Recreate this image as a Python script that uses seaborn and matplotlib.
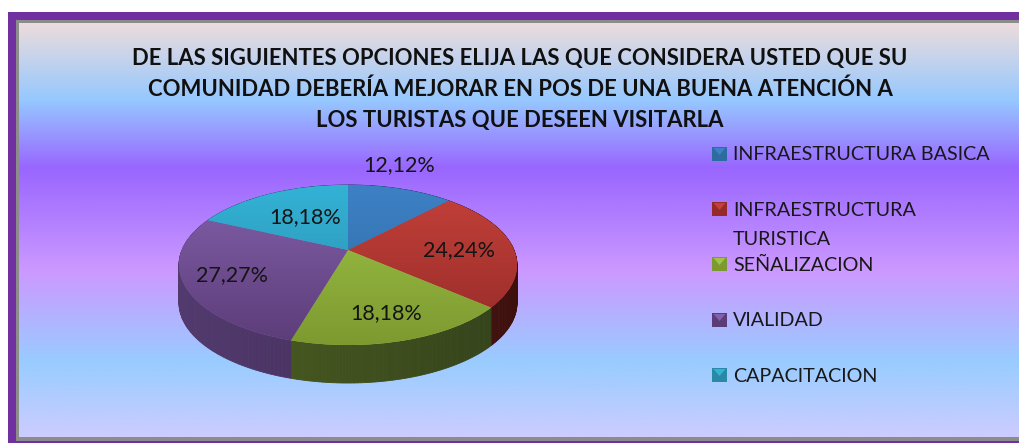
import numpy as np
import matplotlib
matplotlib.use("Agg")
import matplotlib.pyplot as plt
import seaborn as sns
from matplotlib.colors import LinearSegmentedColormap, to_rgb
from matplotlib.patches import Rectangle, Polygon
from matplotlib.transforms import Transform

categories = ["INFRAESTRUCTURA BASICA", "INFRAESTRUCTURA\nTURISTICA", "SEÑALIZACION", "VIALIDAD", "CAPACITACION"]
values = [12.12, 24.24, 18.18, 27.27, 18.18]
pct_labels = ["12,12%", "24,24%", "18,18%", "27,27%", "18,18%"]
title_lines = ["DE LAS SIGUIENTES OPCIONES ELIJA LAS QUE CONSIDERA USTED QUE SU",
               "COMUNIDAD DEBERÍA MEJORAR EN POS DE UNA BUENA ATENCIÓN A",
               "LOS TURISTAS QUE DESEEN VISITARLA"]
top_hi = ["#3d80c5", "#c4413a", "#9fc348", "#8260aa", "#33b2d6"]
top_lo = ["#2c6c9f", "#952a28", "#7d9a30", "#5c3c78", "#2a8aa6"]
side_l = ["#1c4468", "#5e1a16", "#4e6022", "#523a6e", "#1c5a6e"]
side_r = ["#153450", "#3e100c", "#34421a", "#3e2a52", "#154454"]

sns.set_theme(style="white")
plt.rcParams["font.family"] = ["Lato", "DejaVu Sans"]

W, H = 1019, 443
fig = plt.figure(figsize=(W / 100, H / 100), dpi=100, facecolor="white")
ax = fig.add_axes([0, 0, 1, 1])

CX, CY, D, A, C, DEPTH = 348.0, 250.0, 166.0, 77.2, 0.1875, 38.0


class Perspective(Transform):
    """Tilts the unit-circle pie into the chart's pixel space."""
    input_dims = output_dims = 2
    is_separable = False
    has_inverse = False

    def transform_non_affine(self, xy):
        xy = np.asarray(xy, float)
        den = 1 + C * xy[:, 1]
        return np.column_stack([CX + D * xy[:, 0] / den, CY - A * xy[:, 1] / den])


persp = Perspective()
wedges, _ = ax.pie(values, startangle=90, counterclock=False, radius=1.0, colors=top_hi)
ax.set_aspect("auto")
ax.set_xlim(0, W)
ax.set_ylim(H, 0)
ax.axis("on")
ax.set_xticks([])
ax.set_yticks([])
for s in ax.spines.values():
    s.set_visible(False)

# frame and background
ax.add_patch(Rectangle((8, 12), W - 8, H - 12, fc="#7030a0", ec="none", zorder=0))
ax.add_patch(Rectangle((16, 20), W - 16, H - 22, fc="#8c8c8c", ec="none", zorder=0.1))
stops = [(0.0, "#ecdcdc"), (0.185, "#96c8ff"), (0.35, "#9966ff"),
         (0.60, "#cc99ff"), (0.82, "#99ccff"), (1.0, "#ccccff")]
bg = LinearSegmentedColormap.from_list("bg", stops)
ax.imshow(np.linspace(0, 1, 256)[:, None], cmap=bg, extent=(19, W, 437, 23), aspect="auto", zorder=0.2,
          vmin=0, vmax=1)

# side of the pie, built from the same slice fractions
fr = np.cumsum([0] + values) / sum(values)
th = np.pi / 2 - 2 * np.pi * fr
for i in range(len(values)):
    t = np.linspace(th[i], th[i + 1], 80)
    p = persp.transform_non_affine(np.column_stack([np.cos(t), np.sin(t)]))
    cl, cr = np.array(to_rgb(side_l[i])), np.array(to_rgb(side_r[i]))
    for j in range(len(t) - 1):
        xs = [p[j, 0], p[j + 1, 0], p[j + 1, 0], p[j, 0]]
        ys = [p[j, 1], p[j + 1, 1], p[j + 1, 1] + DEPTH, p[j, 1] + DEPTH]
        f = np.clip((p[j, 0] - 177) / 341, 0, 1)
        ax.fill(xs, ys, color=cl * (1 - f) + cr * f, lw=0.6, zorder=1)

# top surface
for i, w in enumerate(wedges):
    w.set_transform(persp + ax.transData)
    w.set_zorder(2)
    w.set_edgecolor("none")
    cm = LinearSegmentedColormap.from_list("c", [top_hi[i], top_lo[i]])
    im = ax.imshow(np.linspace(0, 1, 64)[:, None], cmap=cm, extent=(170, 525, 346, 185), aspect="auto", zorder=3)
    im.set_clip_path(w)
ax.set_xlim(0, W)
ax.set_ylim(H, 0)

# percentage labels
for (x, y), s in zip([(399, 165), (459, 250), (386, 313), (232, 275), (305, 217)], pct_labels):
    ax.text(x, y, s, fontsize=15.5, color="#141414", ha="center", va="center", zorder=5)

# title
for y, s in zip([58, 89, 120], title_lines):
    ax.text(520, y, s, fontsize=15.95, fontweight="bold", color="#101010", ha="center", va="center", zorder=5)

# legend
for y, c, hi, lo in zip([154, 209, 264, 320, 375], categories, top_hi, top_lo):
    ax.add_patch(Rectangle((712, y - 7), 15, 14, fc=lo, ec="none", zorder=5))
    ax.add_patch(Polygon([(713.5, y - 6), (725.5, y - 6), (719.5, y + 1)], fc=hi, ec="none", zorder=6))
    ax.text(733, y + 1, c.split("\n")[0], fontsize=14.2, color="#181818", ha="left", va="center", zorder=5)
    if "\n" in c:
        ax.text(733, y + 30, c.split("\n")[1], fontsize=14.2, color="#181818", ha="left", va="center", zorder=5)

fig.savefig("out.png", dpi=100)
